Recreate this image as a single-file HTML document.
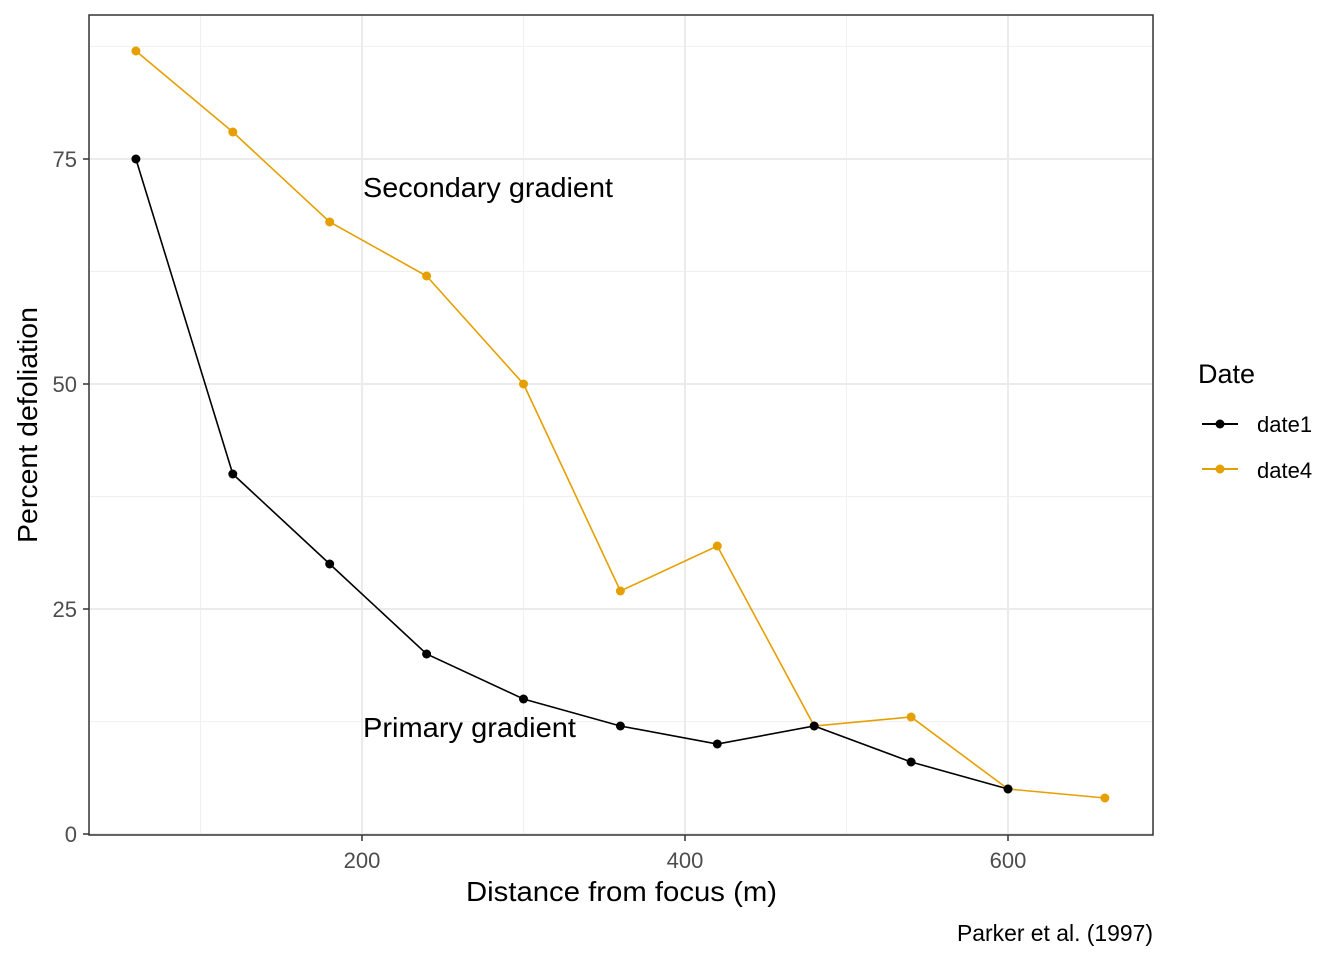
<!DOCTYPE html>
<html><head><meta charset="utf-8"><style>
body{margin:0;background:#fff;}
svg{display:block;font-family:"Liberation Sans",sans-serif;}
</style></head><body>
<svg id="chart" width="1344" height="960">
<g id="grid"></g><g id="series"></g><g id="axes"></g>
<text x="363" y="197" font-size="28" textLength="250" lengthAdjust="spacingAndGlyphs" fill="#000">Secondary gradient</text>
<text x="363" y="737" font-size="28" textLength="213" lengthAdjust="spacingAndGlyphs" fill="#000">Primary gradient</text>
<text x="466" y="901" font-size="28" textLength="311" lengthAdjust="spacingAndGlyphs">Distance from focus (m)</text>
<text transform="translate(37,543) rotate(-90)" font-size="28" textLength="236" lengthAdjust="spacingAndGlyphs">Percent defoliation</text>
<text x="957" y="941" font-size="23" textLength="196" lengthAdjust="spacingAndGlyphs">Parker et al. (1997)</text>
<g>
<text x="1198" y="383" font-size="27">Date</text>
<g><line x1="1202" x2="1238" y1="424" y2="424" stroke="#000" stroke-width="2"/><circle cx="1220" cy="424" r="4.5" fill="#000"/><text x="1257" y="432" font-size="22">date1</text></g>
<g><line x1="1202" x2="1238" y1="469" y2="469" stroke="#E69F00" stroke-width="2"/><circle cx="1220" cy="469" r="4.5" fill="#E69F00"/><text x="1257" y="478" font-size="22">date4</text></g>
</g>
</svg>
<script>
const date1X=[60,120,180,240,300,360,420,480,540,600];
const date1Y=[75,40,30,20,15,12,10,12,8,5];
const date4X=[60,120,180,240,300,360,420,480,540,600,660];
const date4Y=[87,78,68,62,50,27,32,12,13,5,4];
const xTicks=[200,400,600];
const yTicks=[0,25,50,75];
const xMinor=[100,300,500];
const yMinor=[12.5,37.5,62.5,87.5];
const L=89,R=1153,T=15,B=835;
const sx=v=>362+(v-200)*323/200;
const sy=v=>834-v*9;
const NS="http://www.w3.org/2000/svg";
function mk(tag,attrs,parent){const e=document.createElementNS(NS,tag);for(const k in attrs)e.setAttribute(k,attrs[k]);parent.appendChild(e);return e;}
const grid=document.getElementById('grid'),axes=document.getElementById('axes'),ser=document.getElementById('series');
mk('rect',{x:L,y:T,width:R-L,height:B-T,fill:'#fff'},grid);
xMinor.forEach(v=>{const e=mk('line',{x1:sx(v),x2:sx(v),y1:T,y2:B,stroke:'#f0f0f0','stroke-width':1},grid);});
yMinor.forEach(v=>{const e=mk('line',{x1:L,x2:R,y1:sy(v),y2:sy(v),stroke:'#f0f0f0','stroke-width':1},grid);});
xTicks.forEach(v=>{const e=mk('line',{x1:sx(v),x2:sx(v),y1:T,y2:B,stroke:'#ebebeb','stroke-width':2},grid);
mk('line',{x1:sx(v),x2:sx(v),y1:B,y2:B+6,stroke:'#333','stroke-width':1.5},axes);
const t=mk('text',{x:sx(v),y:B+33,'font-size':22,fill:'#4d4d4d','text-anchor':'middle'},axes);t.textContent=v;});
yTicks.forEach(v=>{const e=mk('line',{x1:L,x2:R,y1:sy(v),y2:sy(v),stroke:'#ebebeb','stroke-width':2},grid);
mk('line',{x1:L-6,x2:L,y1:sy(v),y2:sy(v),stroke:'#333','stroke-width':1.5},axes);
const t=mk('text',{x:L-12,y:sy(v)+8,'font-size':22,fill:'#4d4d4d','text-anchor':'end'},axes);t.textContent=v;});
const fr=mk('rect',{x:L,y:T,width:R-L,height:B-T,fill:'none',stroke:'#333','stroke-width':1.5},axes);

function draw(xs,ys,col,name){
const p=mk('polyline',{points:xs.map((x,i)=>sx(x)+','+sy(ys[i])).join(' '),fill:'none',stroke:col,'stroke-width':1.6},ser);

xs.forEach((x,i)=>{const c=mk('circle',{cx:sx(x),cy:sy(ys[i]),r:4.5,fill:col},ser);});
}
draw(date4X,date4Y,'#E69F00','date4');
draw(date1X,date1Y,'#000','date1');
</script>
</body></html>
